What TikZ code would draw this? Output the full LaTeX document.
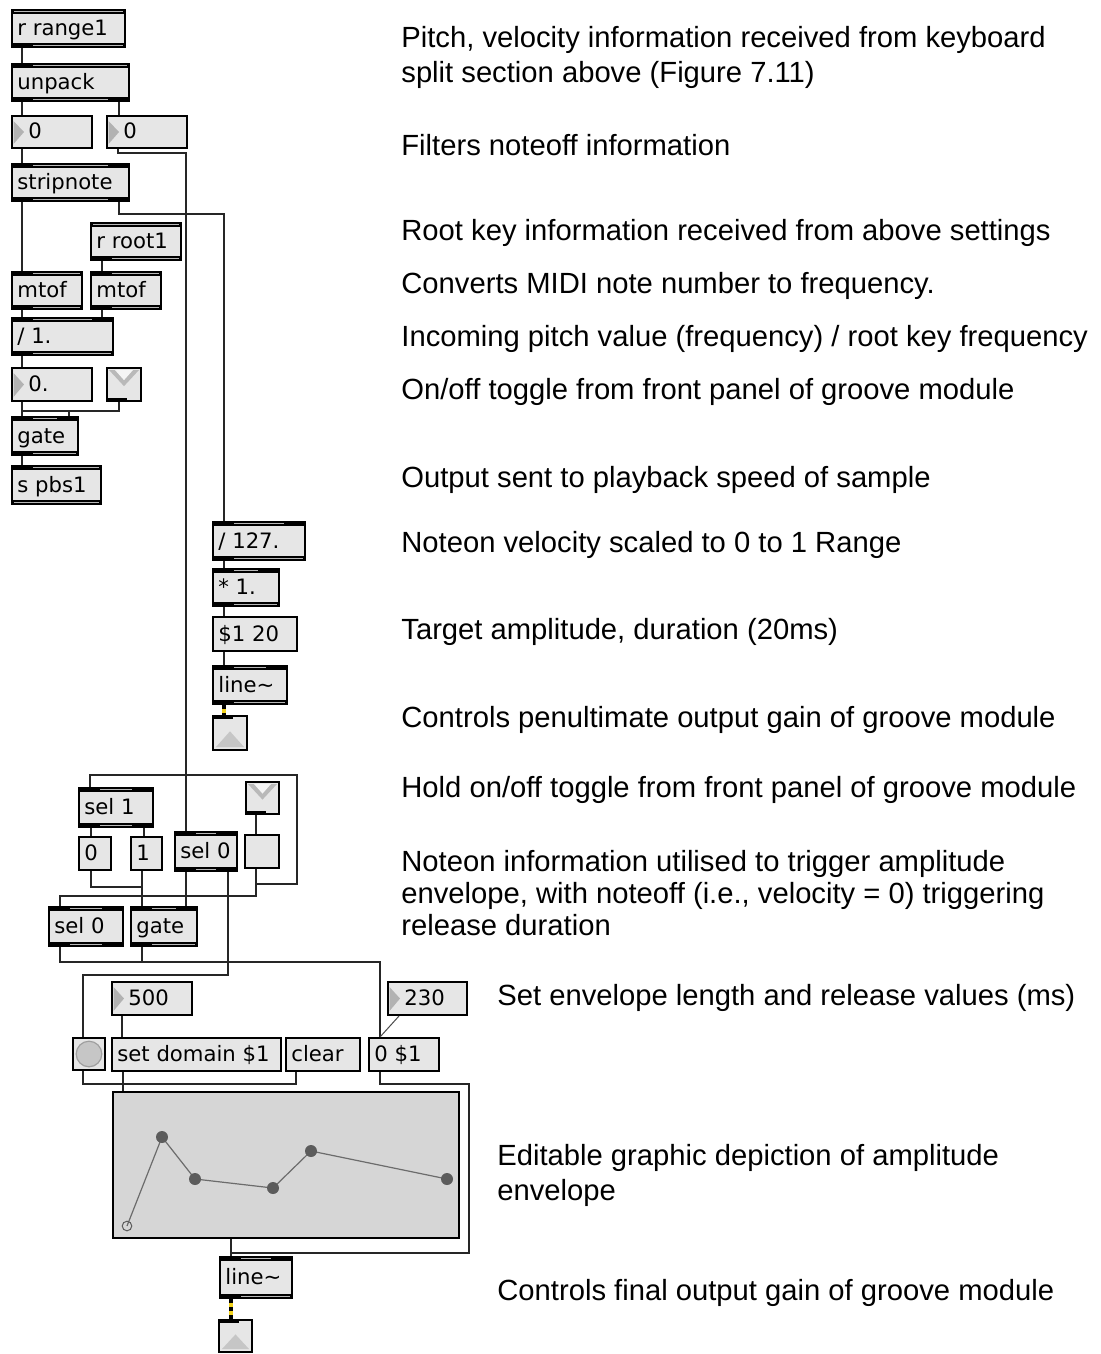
\documentclass[tikz,border=0pt]{standalone}
\usepackage{fontspec}
\setmainfont{Liberation Sans}
\newfontfamily\patchfont{DejaVu Sans}

\definecolor{boxgray}{HTML}{E6E6E6}
\definecolor{insetgray}{HTML}{B8B8B8}
\definecolor{fungray}{HTML}{D6D6D6}
\definecolor{markgray}{HTML}{5C5C5C}
\definecolor{cordyellow}{HTML}{F2D21C}

\tikzset{
  boxframe/.style={draw=black, line width=1pt, fill=boxgray, inner sep=0pt},
  boxtext/.style={anchor=base west, inner sep=0pt, font=\patchfont\fontsize{10.6}{12}\selectfont},
  wire/.style={draw=black!85, line width=1pt},
  thinwire/.style={draw=black!70, line width=0.5pt},
  signal/.style={line width=1.6pt, draw=black, dash pattern=on 2pt off 2pt,
                 preaction={draw=cordyellow, solid, line width=1.6pt}},
  note/.style={anchor=west, align=left, inner sep=0pt, font=\fontsize{14.6}{17.5}\selectfont},
}

% empty framed node spanning (x1,y1)-(x2,y2), coordinates in pixels
\newcommand\frameat[5]{%
  \pgfmathsetmacro\fw{(#4-#2)/2}\pgfmathsetmacro\fh{(#5-#3)/2}%
  \node[boxframe, minimum width=\fw pt, minimum height=\fh pt] (#1) at ({(#2+#4)/2},{(#3+#5)/2}) {};}

% object box: name, x1, y1, x2, y2, text, inlets, outlets
\newcommand\maxobj[8]{%
  \frameat{#1}{#2}{#3}{#4}{#5}%
  \node[boxtext] (#1-t) at ({#2+5},{(#3+#5)/2+7}) {#6};%
  \ifnum#7>0 \def\lo{11}\else\def\lo{1.5}\fi
  \ifnum#7>1 \def\ro{11}\else\def\ro{1.5}\fi
  \fill (#1.north west) rectangle ([yshift=-2.6pt]#1.north east);
  \fill[insetgray] ([xshift=\lo pt,yshift=-0.9pt]#1.north west) rectangle ([xshift=-\ro pt,yshift=-1.7pt]#1.north east);
  \ifnum#8>0 \def\lo{11}\else\def\lo{1.5}\fi
  \ifnum#8>1 \def\ro{11}\else\def\ro{1.5}\fi
  \fill (#1.south west) rectangle ([yshift=2.6pt]#1.south east);
  \fill[insetgray] ([xshift=\lo pt,yshift=0.9pt]#1.south west) rectangle ([xshift=-\ro pt,yshift=1.7pt]#1.south east);
}

% message box
\newcommand\maxmsg[6]{%
  \frameat{#1}{#2}{#3}{#4}{#5}%
  \node[boxtext] (#1-t) at ({#2+5},{(#3+#5)/2+7}) {#6};}

% number box with its arrow
\newcommand\maxnum[6]{%
  \frameat{#1}{#2}{#3}{#4}{#5}%
  \fill[gray!60] ({#2+1.5},{#3+5}) -- ({#2+12},{(#3+#5)/2}) -- ({#2+1.5},{#5-4}) -- cycle;
  \node[boxtext] (#1-t) at ({#2+16},{(#3+#5)/2+7}) {#6};}

% toggle
\newcommand\maxtoggle[5]{%
  \frameat{#1}{#2}{#3}{#4}{#5}%
  \fill[gray!55] ({#2+2},{#3+2}) -- ({#4-2},{#3+2}) -- ({(#2+#4)/2},{#3+0.55*(#5-#3)}) -- cycle;
  \fill[gray!8] ({#2+8},{#3+2}) -- ({#4-8},{#3+2}) -- ({(#2+#4)/2},{#3+0.55*(#5-#3)-6}) -- cycle;
  \fill ({#2},{#5-3}) rectangle ({#2+20},{#5});}

% gain slider
\newcommand\maxslider[5]{%
  \frameat{#1}{#2}{#3}{#4}{#5}%
  \fill[gray!45] ({#2+3},{#5-3}) -- ({(#2+#4)/2},{#3+0.45*(#5-#3)}) -- ({#4-3},{#5-3}) -- cycle;
  \fill ({#2},{#3}) rectangle ({#2+20},{#3+3});}

% bang button
\newcommand\maxbang[5]{%
  \frameat{#1}{#2}{#3}{#4}{#5}%
  \filldraw[fill=gray!45, draw=gray!75, line width=0.6pt] (#1.center) circle[radius=6.4pt];}

\begin{document}
\begin{tikzpicture}[x=0.5pt,y=-0.5pt]
\fill[white] (0,0) rectangle (1100,1354);
\useasboundingbox (0,0) rectangle (1100,1354);

% ---------- pitch section ----------
\maxobj{rrange}{12}{10}{125}{47}{r range1}{0}{1}
\maxobj{unpack}{12}{64}{129}{101}{unpack}{1}{2}
\maxnum{numA}{12}{116}{92}{148}{0}
\maxnum{numB}{107}{116}{187}{148}{0}
\maxobj{strip}{12}{164}{129}{201}{stripnote}{2}{2}
\maxobj{rroot}{91}{223}{181}{260}{r root1}{0}{1}
\maxobj{mtofA}{12}{272}{82}{309}{mtof}{1}{1}
\maxobj{mtofB}{91}{272}{161}{309}{mtof}{1}{1}
\maxobj{div}{12}{318}{113}{355}{/ 1.}{2}{1}
\maxnum{numC}{12}{368}{92}{401}{0.}
\maxtoggle{togA}{107}{368}{141}{401}
\maxobj{gateA}{12}{417}{78}{455}{gate}{2}{1}
\maxobj{spbs}{12}{466}{101}{504}{s pbs1}{1}{0}

% ---------- velocity section ----------
\maxobj{divv}{213}{522}{305}{560}{/ 127.}{2}{1}
\maxobj{mul}{213}{569}{279}{606}{* 1.}{2}{1}
\maxmsg{amp}{213}{617}{297}{651}{\$1 20}
\maxobj{lineA}{213}{666}{287}{704}{line\textasciitilde}{2}{1}
\maxslider{gainA}{213}{716}{247}{750}

% ---------- hold / release logic ----------
\maxobj{selA}{79}{788}{153}{827}{sel 1}{2}{2}
\maxmsg{zero}{79}{837}{111}{870}{0}
\maxmsg{one}{131}{837}{162}{870}{1}
\maxobj{selB}{175}{832}{237}{871}{sel 0}{2}{2}
\maxtoggle{togB}{246}{782}{279}{814}
\maxmsg{blank}{245}{835}{279}{868}{}
\maxobj{selC}{49}{907}{123}{946}{sel 0}{2}{2}
\maxobj{gateB}{131}{907}{197}{946}{gate}{2}{1}

% ---------- envelope ----------
\maxnum{numD}{112}{982}{192}{1015}{500}
\maxnum{numE}{388}{982}{467}{1015}{230}
\maxbang{bang}{73}{1038}{105}{1070}
\maxmsg{setdom}{112}{1038}{281}{1071}{set domain \$1}
\maxmsg{clear}{286}{1038}{360}{1071}{clear}
\maxmsg{rel}{369}{1038}{439}{1071}{0 \$1}
\node[boxframe, fill=fungray, minimum width=173pt, minimum height=73pt] (func) at (286,1165) {};
\draw[markgray!90, line width=0.6pt] (127,1226) -- (162,1137) -- (195,1179) -- (273,1188) -- (311,1151) -- (447,1179);
\foreach \p in {(162,1137),(195,1179),(273,1188),(311,1151),(447,1179)}
  \fill[markgray] \p circle[radius=3pt];
\draw[markgray, line width=0.5pt] (127,1226) circle[radius=2.4pt];
\maxobj{lineB}{220}{1257}{292}{1298}{line\textasciitilde}{2}{1}
\maxslider{gainB}{219}{1320}{252}{1352}

% ---------- patch cords ----------
\draw[wire] ([xshift=5.5pt]rrange.south west) -- ([xshift=5.5pt]unpack.north west);
\draw[wire] ([xshift=5.5pt]unpack.south west) -- ([xshift=5.5pt]numA.north west);
\draw[wire] ([xshift=-5.5pt]unpack.south east) -- ([xshift=-5.5pt]unpack.south east |- numB.north);
\draw[wire] ([xshift=5.5pt]numA.south west) -- ([xshift=5.5pt]strip.north west);
\draw[wire] ([xshift=6pt]numB.south west) -- ++(0,4) -| ([xshift=6pt]selB.north west);
\draw[wire] ([xshift=5.5pt]strip.south west) -- ([xshift=5.5pt]mtofA.north west);
\draw[wire] ([xshift=-5.5pt]strip.south east) -- ++(0,12) -| ([xshift=6pt]divv.north west);
\draw[wire] ([xshift=6pt]rroot.south west) -- ([xshift=6pt]mtofB.north west);
\draw[wire] ([xshift=5.5pt]mtofA.south west) -- ([xshift=5.5pt]div.north west);
\draw[wire] ([xshift=6pt]mtofB.south west) -- ([xshift=6pt]mtofB.south west |- div.north);
\draw[wire] ([xshift=5.5pt]div.south west) -- ([xshift=5.5pt]numC.north west);
\draw[wire] ([xshift=5.5pt]numC.south west) -- ++(0,9) -| ([xshift=-5pt]gateA.north east);
\draw[wire] ([xshift=6.5pt]togA.south west) -- ++(0,9) -| ([xshift=5.5pt]gateA.north west);
\draw[wire] ([xshift=5.5pt]gateA.south west) -- ([xshift=5.5pt]spbs.north west);

\draw[wire] ([xshift=6pt]divv.south west) -- ([xshift=6pt]mul.north west);
\draw[wire] ([xshift=6pt]mul.south west) -- ([xshift=6pt]amp.north west);
\draw[wire] ([xshift=6pt]amp.south west) -- ([xshift=6pt]lineA.north west);
\draw[signal] ([xshift=6pt]lineA.south west) -- ([xshift=6pt]lineA.south west |- gainA.north);

\draw[wire] ([xshift=5.5pt]togB.south west) -- ([xshift=5.5pt]togB.south west |- blank.north);
\draw[wire] ([xshift=6pt]blank.south west) -- ++(0,15) -- ++(41,0) -- ++(0,-109) -| ([xshift=6pt]selA.north west);
\draw[wire] ([xshift=6pt]blank.south west) -- ++(0,27) -| ([xshift=6pt]selC.north west);
\draw[wire] ([xshift=6.5pt]selA.south west) -- ([xshift=6.5pt]zero.north west);
\draw[wire] ([xshift=-5pt]selA.south east) -- ([xshift=-5pt]selA.south east |- one.north);
\draw[wire] ([xshift=6.5pt]zero.south west) -- ++(0,16) -| ([xshift=6pt]gateB.north west);
\draw[wire] ([xshift=6pt]one.south west) -- ([xshift=6pt]gateB.north west);
\draw[wire] ([xshift=6pt]selB.south west) -- ([xshift=6pt]selB.south west |- gateB.north);
\draw[wire] ([xshift=-5pt]selB.south east) -- ++(0,103) -| ([xshift=5.5pt]bang.north west);
\draw[wire] ([xshift=6pt]selC.south west) -- ++(0,15) -| ([xshift=6pt]rel.north west);
\draw[wire] ([xshift=6pt]gateB.south west) -- ++(0,15) -| ([xshift=6pt]rel.north west);
\draw[wire] ([xshift=5.5pt]numD.south west) -- ([xshift=5.5pt]setdom.north west);
\draw[thinwire] ([xshift=6pt]numE.south west) -- ([xshift=6pt]rel.north west);
\draw[wire] ([xshift=5.5pt]bang.south west) -- ++(0,13) -| ([xshift=5.5pt]func.north west);
\draw[wire] ([xshift=6pt]setdom.south west) -- ([xshift=5.5pt]func.north west);
\draw[wire] ([xshift=5.5pt]clear.south west) -- ++(0,12) -| ([xshift=5.5pt]func.north west);
\draw[wire] ([xshift=6pt]rel.south west) -- ++(0,12) -- ++(89,0) -- ++(0,169) -| ([xshift=6pt]lineB.north west);
\draw[wire] ([xshift=6pt]lineB.north west |- func.south) -- ([xshift=6pt]lineB.north west);
\draw[signal] ([xshift=6pt]lineB.south west) -- ([xshift=6pt]lineB.south west |- gainB.north);

% ---------- annotations ----------
\node[note] (n1) at (401,57.5) {Pitch, velocity information received from keyboard\\split section above (Figure 7.11)};
\node[note] (n2) at (401,145) {Filters noteoff information};
\node[note] (n3) at (401,233) {Root key information received from above settings};
\node[note] (n4) at (401,286) {Converts MIDI note number to frequency.};
\node[note] (n5) at (401,339) {Incoming pitch value (frequency) / root key frequency};
\node[note] (n6) at (401,392) {On/off toggle from front panel of groove module};
\node[note] (n7) at (401,480) {Output sent to playback speed of sample};
\node[note] (n8) at (401,545) {Noteon velocity scaled to 0 to 1 Range};
\node[note] (n9) at (401,632) {Target amplitude, duration (20ms)};
\node[note] (n10) at (401,720) {Controls penultimate output gain of groove module};
\node[note] (n11) at (401,790) {Hold on/off toggle from front panel of groove module};
\node[note, font=\fontsize{14.6}{16}\selectfont] (n12) at (401,893) {Noteon information utilised to trigger amplitude\\envelope, with noteoff (i.e., velocity = 0) triggering\\release duration};
\node[note] (n13) at (497,998) {Set envelope length and release values (ms)};
\node[note] (n14) at (497,1175.5) {Editable graphic depiction of amplitude\\envelope};
\node[note] (n15) at (497,1293) {Controls final output gain of groove module};
\end{tikzpicture}
\end{document}
